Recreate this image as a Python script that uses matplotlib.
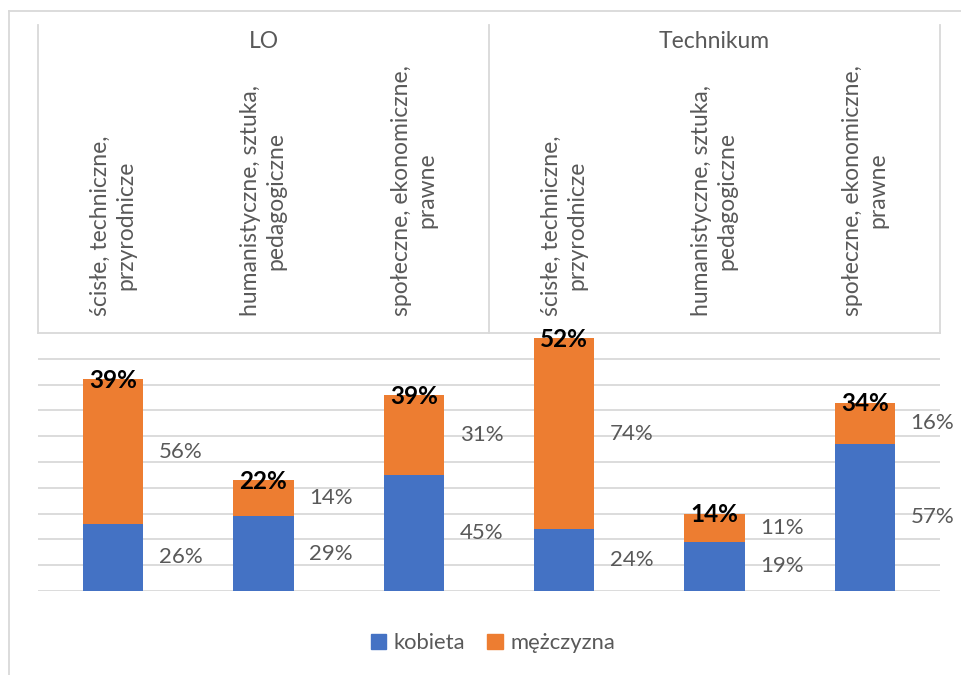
import matplotlib.pyplot as plt
import numpy as np
from matplotlib.lines import Line2D
from matplotlib.patches import Patch

plt.rcParams['font.family'] = ['Lato', 'DejaVu Sans']

groups = ["LO", "Technikum"]
categories = ["ścisłe, techniczne,\nprzyrodnicze",
              "humanistyczne, sztuka,\npedagogiczne",
              "społeczne, ekonomiczne,\nprawne"] * 2
kobieta = [26, 29, 45, 24, 19, 57]
mezczyzna = [56, 14, 31, 74, 11, 16]
razem = [39, 22, 39, 52, 14, 34]

blue = "#4472C4"
orange = "#ED7D31"
grey_txt = "#595959"
grid_col = "#D9D9D9"

W, H = 962, 675
fig = plt.figure(figsize=(W / 100, H / 100), dpi=100)

def fx(px):
    return px / W

def fy(py):
    return 1 - py / H

# plot area (pixel edges)
left, right, base, top = 38, 940, 591, 333
ax = fig.add_axes([fx(left), fy(base), fx(right - left), fy(top) - fy(base)])

x = np.arange(len(categories))
ax.bar(x, kobieta, 0.4, color=blue, label="kobieta", zorder=3)
ax.bar(x, mezczyzna, 0.4, bottom=kobieta, color=orange, label="mężczyzna", zorder=3)

ax.set_xlim(-0.5, len(categories) - 0.5)
ax.set_ylim(0, 100)
ax.set_yticks(np.arange(0, 100, 10))
ax.yaxis.grid(True, color=grid_col, lw=1.3)
ax.set_axisbelow(True)
ax.tick_params(left=False, bottom=False, labelleft=False, labelbottom=False)
for s in ax.spines.values():
    s.set_visible(False)

# value labels to the right of the bars
for i in x:
    k, m = kobieta[i], mezczyzna[i]
    ax.text(i + 0.45, k / 2, f"{k}%", ha="center", va="center",
            fontsize=16, color=grey_txt)
    ax.text(i + 0.45, k + m / 2, f"{m}%", ha="center", va="center",
            fontsize=16, color=grey_txt)
    ax.text(i, k + m - 0.5, f"{razem[i]}%", ha="center", va="center",
            fontsize=17.5, fontweight="bold", color="black", zorder=4)

# category axis box on top
box_top = 25
ytop_ax = (base - box_top) / (base - top)
for xb in [-0.5, 2.5, 5.5]:
    ax.plot([xb, xb], [1.0, ytop_ax], color=grid_col, lw=1.3,
            transform=ax.get_xaxis_transform(), clip_on=False)
ax.plot([-0.5, 5.5], [1.0, 1.0], color=grid_col, lw=1.3,
        transform=ax.get_xaxis_transform(), clip_on=False)

for i, lab in enumerate(categories):
    ax.text(i, (base - 316) / (base - top), lab, rotation=90,
            ha="center", va="bottom", multialignment="center",
            fontsize=16.5, color=grey_txt, linespacing=1.25,
            transform=ax.get_xaxis_transform())

for g, name in enumerate(groups):
    ax.text(1 + 3 * g, (base - 41) / (base - top), name,
            ha="center", va="center", fontsize=16.5, color=grey_txt,
            transform=ax.get_xaxis_transform())

# outer chart frame (cut off at right and bottom)
fig.add_artist(Line2D([fx(9), 1.0], [fy(11), fy(11)], color=grid_col, lw=1.3))
fig.add_artist(Line2D([fx(9), fx(9)], [fy(11), 0.0], color=grid_col, lw=1.3))

handles = [Patch(color=blue), Patch(color=orange)]
fig.legend(handles, ["kobieta", "mężczyzna"], loc="center",
           bbox_to_anchor=(fx(493), fy(643)), ncol=2, frameon=False,
           fontsize=15.8, labelcolor=grey_txt, handlelength=0.7,
           handleheight=0.7, handletextpad=0.35, columnspacing=1.0)

fig.savefig("out.png", dpi=100, facecolor="white")
